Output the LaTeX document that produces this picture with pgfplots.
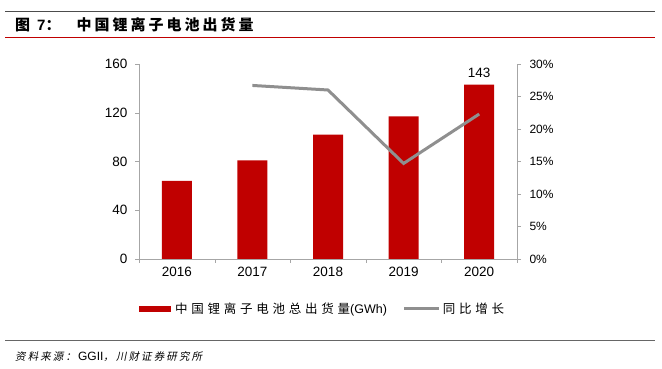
\documentclass[border=0pt]{standalone}
\usepackage{pgfplots}
\pgfplotsset{compat=1.18}
\usepackage{fontspec}
\setmainfont{Liberation Sans}
\newfontfamily\cjk{Noto Sans CJK SC}
\newfontfamily\cjkt[LetterSpace=20]{Noto Sans CJK SC}
\newfontfamily\cjkl[LetterSpace=30]{Noto Sans CJK SC}
\newfontfamily\cjks[LetterSpace=20,FakeSlant=0.2]{Noto Sans CJK SC}
\definecolor{barred}{HTML}{C00000}
\definecolor{linegray}{HTML}{8F8F8F}
\definecolor{axgray}{HTML}{A6A6A6}
\pgfplotstableread{
x val
0 64
1 81
2 102
3 117
4 143
}\bars
\pgfplotstableread{
x g
1 26.7
2 26.0
3 14.7
4 22.3
}\growth
\begin{document}
\begin{tikzpicture}[x=1pt,y=1pt]
\useasboundingbox (0,0) rectangle (662,369);
\draw[black!70, line width=0.8pt] (5,358) -- (655,358);
\node[anchor=west, inner sep=0] at (15,344) {\cjkt\fontsize{15}{17}\selectfont\bfseries 图\hspace{7pt}{\fontspec{Liberation Sans}\bfseries 7}：\hspace{16pt}中国锂离子电池出货量};
\draw[barred, line width=0.8pt] (5,331.5) -- (655,331.5);
\draw[black!60, line width=0.8pt] (5,28.5) -- (655,28.5);
\node[anchor=west, inner sep=0] at (15,12) {\cjks\fontsize{10.5}{12}\selectfont 资料来源：\hspace{2pt}{\fontspec{Liberation Sans}\fontsize{12}{13}\selectfont GGII}，川财证券研究所};
\begin{axis}[
  at={(139pt,110pt)}, anchor=south west, scale only axis,
  width=378pt, height=195pt,
  xmin=-0.5, xmax=4.5, ymin=0, ymax=160,
  ytick={0,40,80,120,160},
  xtick={0,1,2,3,4}, xticklabels={2016,2017,2018,2019,2020},
  minor xtick={-0.5,0.5,1.5,2.5,3.5,4.5},
  major tick length=4pt, minor tick length=4pt,
  tick align=outside,
  x tick style={draw=none}, minor x tick style={draw=axgray},
  y tick style={draw=axgray},
  axis x line*=bottom, axis y line*=left,
  axis line style={draw=axgray, line width=0.8pt},
  ticklabel style={font=\fontsize{13.5}{15}\selectfont},
  /pgf/number format/assume math mode=true,
  xticklabel style={yshift=-1pt},
  yticklabel style={xshift=-4pt},
  legend style={at={(0.0,-0.256)}, anchor=west, draw=none, legend columns=2,
    inner sep=0pt, font=\fontsize{12.5}{14}\selectfont,
    /tikz/every even column/.append style={column sep=14pt}},
  legend cell align=left,
]
\addplot[ybar, bar width=30pt, fill=barred, draw=none,
  legend image code/.code={\fill[barred] (0pt,-3pt) rectangle (32pt,3pt);}]
  table[x=x,y=val]{\bars};
\addlegendentry{\hspace{2pt}{\cjkl 中国锂离子电池总出货量}(GWh)}
\addlegendimage{legend image code/.code={\draw[linegray, line width=3pt] (0pt,0pt) -- (35pt,0pt);}}
\addlegendentry{{\cjkl 同比增长}}
\node[anchor=south, yshift=4pt, font=\fontsize{13.5}{15}\selectfont] at (axis cs:4,143) {143};
\end{axis}
\begin{axis}[
  at={(139pt,110pt)}, anchor=south west, scale only axis,
  width=378pt, height=195pt,
  xmin=-0.5, xmax=4.5, ymin=0, ymax=30,
  ytick={0,5,10,15,20,25,30},
  yticklabel={\pgfmathprintnumber{\tick}\%},
  axis x line=none, axis y line*=right,
  axis line style={draw=axgray, line width=0.8pt},
  major tick length=4pt, tick align=outside,
  y tick style={draw=axgray},
  ticklabel style={font=\fontsize{12}{14}\selectfont},
  yticklabel style={xshift=5pt},
  /pgf/number format/assume math mode=true,
]
\addplot[linegray, line width=3pt, mark=none] table[x=x,y=g]{\growth};
\end{axis}
\end{tikzpicture}
\end{document}
